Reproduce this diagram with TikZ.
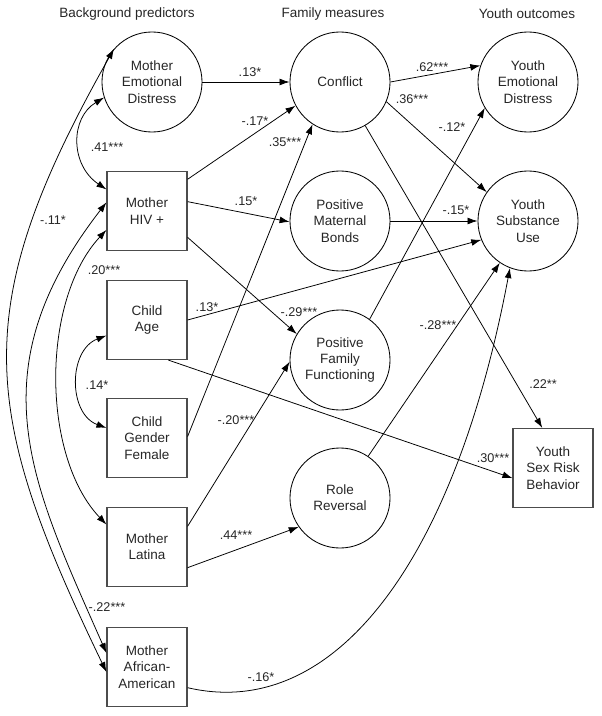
\documentclass[tikz,border=0pt]{standalone}
\usepackage{fontspec}
\setmainfont{Liberation Sans}
\usepackage{tikz}
\usetikzlibrary{arrows.meta}

\tikzset{
  latent/.style={circle, draw, line width=0.6pt, minimum size=2.5cm,
    inner sep=0pt, align=center, text=black!85,
    font=\fontsize{9.6}{11.6}\selectfont},
  observed/.style={rectangle, draw=black!70, line width=0.8pt,
    minimum width=2cm, minimum height=1.975cm, inner sep=0pt,
    align=center, text=black!85, font=\fontsize{9.6}{11.6}\selectfont},
  effect/.style={->, line width=0.55pt},
  corr/.style={<->, line width=0.55pt},
  coef/.style={inner sep=0pt, text=black!85, font=\fontsize{9}{10}\selectfont},
  heading/.style={inner sep=0pt, text=black!85, font=\fontsize{9.6}{11}\selectfont}
}

\begin{document}
\begin{tikzpicture}[>={Latex[length=2.5mm,width=1.7mm]}, x=0.025cm, y=-0.025cm]

    \useasboundingbox (0,0) rectangle (602,716);

    % =================================================================
    % 1. COLUMN HEADINGS
    % =================================================================
    \node[heading] (hBack) at (127,14) {Background predictors};
    \node[heading] (hFam)  at (333,14) {Family measures};
    \node[heading] (hOut)  at (527,14) {Youth outcomes};

    % =================================================================
    % 2. BACKGROUND PREDICTORS (LEFT COLUMN)
    % =================================================================
    \node[latent]   (med) at (152,82)  {Mother\\Emotional\\Distress};
    \node[observed] (hiv) at (147,211) {Mother\\HIV +};
    \node[observed] (age) at (147,320) {Child\\Age};
    \node[observed] (gen) at (147,438) {Child\\Gender\\Female};
    \node[observed] (lat) at (147,547) {Mother\\Latina};
    \node[observed] (afr) at (147,667) {Mother\\African-\\American};

    % =================================================================
    % 3. FAMILY MEASURES (MIDDLE COLUMN)
    % =================================================================
    \node[latent] (con) at (340,82)  {Conflict};
    \node[latent] (pmb) at (340,221) {Positive\\Maternal\\Bonds};
    \node[latent] (pff) at (340,360) {Positive\\Family\\Functioning};
    \node[latent] (rr)  at (340,498) {Role\\Reversal};

    % =================================================================
    % 4. YOUTH OUTCOMES (RIGHT COLUMN)
    % =================================================================
    \node[latent]   (yed) at (528,82)  {Youth\\Emotional\\Distress};
    \node[latent]   (ysu) at (528,221) {Youth\\Substance\\Use};
    \node[observed] (ysr) at (553,468) {Youth\\Sex Risk\\Behavior};

    % =================================================================
    % 5. CORRELATIONS AMONG PREDICTORS (CURVED, TWO HEADS)
    % =================================================================
    \draw[corr] (med.198) .. controls (70,118) and (70,165) .. (hiv.152);
    \draw[corr] (med.139) .. controls (-33,309) and (-20,410) .. (afr.187);
    \draw[corr] (hiv.168) .. controls (-25,372) and (31,482) .. (afr.161);
    \draw[corr] (hiv.205) .. controls (41,300) and (41,456) .. (lat.151);
    \draw[corr] (age.201) .. controls (68,350) and (68,414) .. (gen.166);

    % =================================================================
    % 6. PATHS INTO FAMILY MEASURES
    % =================================================================
    \draw[effect] (med.0)   -- (con.180);
    \draw[effect] (hiv.38)  -- (con.208);
    \draw[effect] (gen.2)   -- (con.237);
    \draw[effect] (hiv.13)  -- (pmb.181);
    \draw[effect] (hiv.-33) -- (pff.149);
    \draw[effect] (lat.27)  -- (pff.182);
    \draw[effect] (lat.-27) -- (rr.215);

    % =================================================================
    % 7. PATHS INTO YOUTH OUTCOMES
    % =================================================================
    \draw[effect] (con.0)   -- (yed.161);
    \draw[effect] (con.-23) -- (ysu.145);
    \draw[effect] (con.-60) -- (ysr.105);
    \draw[effect] (pmb.0)   -- (ysu.180);
    \draw[effect] (pff.54)  -- (yed.211);
    \draw[effect] (rr.56)   -- (ysu.236);
    \draw[effect] (age.0)   -- (ysu.202);
    \draw[effect] (age.-62) -- (ysr.194);
    \draw[effect] (afr.-27) .. controls (335,722) and (455,560) .. (ysu.249);

    % =================================================================
    % 8. COEFFICIENTS
    % =================================================================
    \node[coef] (c41) at (107,147) {.41***};
    \node[coef] (c11) at (53,220)  {-.11*};
    \node[coef] (c20) at (104,270) {.20***};
    \node[coef] (c14) at (97,385)  {.14*};
    \node[coef] (c22) at (107,607) {-.22***};

    \node[coef] (c13a) at (250,72)  {.13*};
    \node[coef] (c17)  at (255,121) {-.17*};
    \node[coef] (c35)  at (285,142) {.35***};
    \node[coef] (c15)  at (246,201) {.15*};
    \node[coef] (c29)  at (299,312) {-.29***};
    \node[coef] (c13b) at (207,307) {.13*};
    \node[coef] (c20b) at (236,420) {-.20***};
    \node[coef] (c44)  at (236,535) {.44***};
    \node[coef] (c16)  at (261,677) {-.16*};

    \node[coef] (c62)  at (432,67)  {.62***};
    \node[coef] (c36)  at (412,99)  {.36***};
    \node[coef] (c12)  at (452,127) {-.12*};
    \node[coef] (c15b) at (456,210) {-.15*};
    \node[coef] (c28)  at (438,325) {-.28***};
    \node[coef] (c22b) at (543,384) {.22**};
    \node[coef] (c30)  at (493,458) {.30***};

\end{tikzpicture}
\end{document}
